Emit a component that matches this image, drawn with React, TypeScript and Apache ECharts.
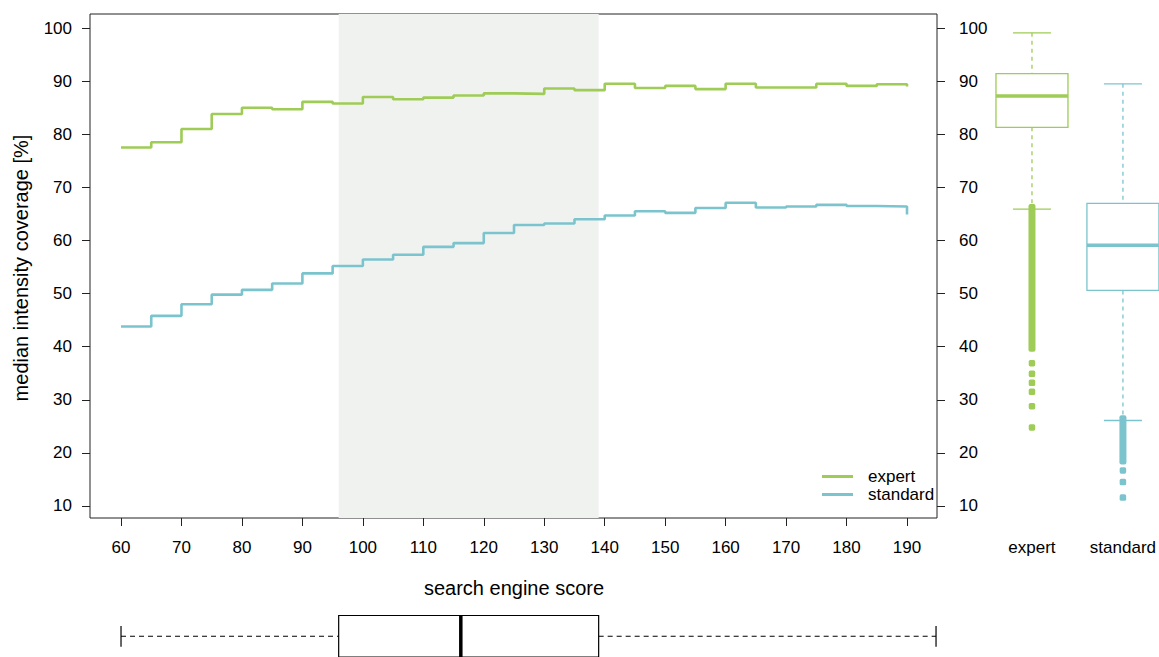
import React, { useEffect, useRef } from 'react';
import * as echarts from 'echarts';

// ---------- data ----------
const scoreSteps = [60, 65, 70, 75, 80, 85, 90, 95, 100, 105, 110, 115, 120, 125, 130, 135, 140, 145, 150, 155, 160, 165, 170, 175, 180, 185, 190];
const expertMedian = [77.5, 78.5, 81.0, 83.8, 85.0, 84.7, 86.1, 85.8, 87.0, 86.6, 86.9, 87.3, 87.7, 87.6, 88.6, 88.3, 89.5, 88.7, 89.1, 88.5, 89.5, 88.8, 88.8, 89.5, 89.1, 89.4, 89.0];
const standardMedian = [43.8, 45.8, 48.0, 49.8, 50.7, 51.9, 53.8, 55.2, 56.4, 57.3, 58.8, 59.5, 61.4, 62.9, 63.2, 64.0, 64.7, 65.5, 65.2, 66.1, 67.1, 66.2, 66.4, 66.7, 66.5, 66.4, 64.9];
const xTicks = [60, 70, 80, 90, 100, 110, 120, 130, 140, 150, 160, 170, 180, 190];
const yTicks = [10, 20, 30, 40, 50, 60, 70, 80, 90, 100];
const groupNames = ['expert', 'standard'];
const groupPositions = [0, 1];
// [group, lowerWhisker, q1, median, q3, upperWhisker]
const groupBoxStats = [
  [0, 65.9, 81.3, 87.2, 91.4, 99.1],
  [1, 26.1, 50.6, 59.1, 67.0, 89.5],
];
// dense outlier runs: [group, low, high]
const outlierRuns = [
  [0, 39.6, 66.3],
  [1, 18.4, 26.5],
];
// isolated outliers: [group, value]
const outlierPoints = [
  [0, 36.9], [0, 34.9], [0, 33.2], [0, 31.5], [0, 28.8], [0, 24.8],
  [1, 16.7], [1, 14.5], [1, 11.6],
];
// search engine score distribution: [min, q1, median, q3, max]
const scoreBoxStats = [60, 96, 116.2, 139, 194.8];

// ---------- styling ----------
const GREEN = '#9ECC56';
const BLUE = '#7CC4CD';
const groupColors = [GREEN, BLUE];
const FONT = 'Liberation Sans, Arial, Helvetica, sans-serif';
const X_MIN = 54.87;
const X_MAX = 194.96;
const Y_MIN = 7.74;
const Y_MAX = 102.64;

export default function App() {
  const ref = useRef<HTMLDivElement>(null);

  useEffect(() => {
    if (!ref.current) return;
    const chart = echarts.init(ref.current, undefined, { renderer: 'svg' });

    const txt = { fontFamily: FONT, fontSize: 17, color: '#000' };

    const option: any = {
      animation: false,
      backgroundColor: '#fff',
      textStyle: { fontFamily: FONT },
      grid: [
        { left: 90, top: 14, width: 847, height: 504, show: true, borderColor: '#222', borderWidth: 1, backgroundColor: 'transparent' },
        { left: 986.5, top: 14, width: 172.5, height: 504 },
        { left: 90, top: 615.5, width: 847, height: 44 },
      ],
      xAxis: [
        {
          type: 'value', gridIndex: 0, min: X_MIN, max: X_MAX,
          axisLine: { show: false },
          splitLine: { show: false },
          axisTick: { show: true, length: 8, inside: false, customValues: xTicks, lineStyle: { color: '#222', width: 1 } },
          axisLabel: { ...txt, margin: 21, customValues: xTicks },
        },
        {
          type: 'value', gridIndex: 1, min: -0.5, max: 1.355,
          axisLine: { show: false }, axisTick: { show: false }, splitLine: { show: false },
          axisLabel: { ...txt, margin: 21, customValues: groupPositions, formatter: (v: number) => groupNames[Math.round(v)] },
        },
        {
          type: 'value', gridIndex: 2, min: X_MIN, max: X_MAX, show: false,
        },
      ],
      yAxis: [
        {
          type: 'value', gridIndex: 0, min: Y_MIN, max: Y_MAX, position: 'left',
          axisLine: { show: false }, splitLine: { show: false },
          axisTick: { show: true, length: 8, customValues: yTicks, lineStyle: { color: '#222', width: 1 } },
          axisLabel: { ...txt, margin: 18, customValues: yTicks },
        },
        {
          type: 'value', gridIndex: 0, min: Y_MIN, max: Y_MAX, position: 'right',
          axisLine: { show: false }, splitLine: { show: false },
          axisTick: { show: true, length: 8, customValues: yTicks, lineStyle: { color: '#222', width: 1 } },
          axisLabel: { ...txt, margin: 22, customValues: yTicks, align: 'left' },
        },
        {
          type: 'value', gridIndex: 1, min: Y_MIN, max: Y_MAX, show: false,
        },
        {
          type: 'value', gridIndex: 2, min: 0, max: 1, show: false,
        },
      ],
      legend: {
        orient: 'vertical', left: 817, top: 463,
        icon: 'rect',
        itemWidth: 31, itemHeight: 3, itemGap: 1,
        textStyle: { ...txt, padding: [0, 0, 0, 10] },
        data: ['expert', 'standard'],
      },
      graphic: [
        {
          type: 'text', x: 514, y: 588,
          style: { text: 'search engine score', font: `20px ${FONT}`, fill: '#000', align: 'center', verticalAlign: 'middle', textAlign: 'center', textVerticalAlign: 'middle' },
        },
        {
          type: 'text', x: 21, y: 268, rotation: Math.PI / 2,
          style: { text: 'median intensity coverage [%]', font: `20px ${FONT}`, fill: '#000', align: 'center', verticalAlign: 'middle', textAlign: 'center', textVerticalAlign: 'middle' },
        },
      ],
      series: [
        {
          name: 'expert', type: 'line', xAxisIndex: 0, yAxisIndex: 0, step: 'end',
          symbol: 'none', showSymbol: false,
          data: scoreSteps.map((s, i) => [s, expertMedian[i]]),
          lineStyle: { color: GREEN, width: 2.6 }, itemStyle: { color: GREEN },
          z: 3,
          markArea: {
            silent: true,
            itemStyle: { color: '#F0F2F0' },
            data: [[{ xAxis: scoreBoxStats[1] }, { xAxis: scoreBoxStats[3] }]],
          },
        },
        {
          name: 'standard', type: 'line', xAxisIndex: 0, yAxisIndex: 0, step: 'end',
          symbol: 'none', showSymbol: false,
          data: scoreSteps.map((s, i) => [s, standardMedian[i]]),
          lineStyle: { color: BLUE, width: 2.6 }, itemStyle: { color: BLUE },
          z: 3,
        },
        {
          name: 'groupBoxes', type: 'custom', xAxisIndex: 1, yAxisIndex: 2,
          data: groupBoxStats,
          encode: { x: 0, y: [1, 2, 3, 4, 5] },
          renderItem: (params: any, api: any) => {
            const cat = api.value(0);
            const lo = api.value(1), q1 = api.value(2), med = api.value(3), q3 = api.value(4), hi = api.value(5);
            const cx = api.coord([cat, med])[0];
            const y = (v: number) => api.coord([cat, v])[1];
            const color = groupColors[params.dataIndex];
            const half = 36, cap = 19;
            const dash = { stroke: color, lineWidth: 1.3, lineDash: [4, 4] };
            return {
              type: 'group',
              children: [
                { type: 'line', shape: { x1: cx, y1: y(hi), x2: cx, y2: y(q3) }, style: dash },
                { type: 'line', shape: { x1: cx, y1: y(q1), x2: cx, y2: y(lo) }, style: dash },
                { type: 'line', shape: { x1: cx - cap, y1: y(hi), x2: cx + cap, y2: y(hi) }, style: { stroke: color, lineWidth: 1.3 } },
                { type: 'line', shape: { x1: cx - cap, y1: y(lo), x2: cx + cap, y2: y(lo) }, style: { stroke: color, lineWidth: 1.3 } },
                { type: 'rect', shape: { x: cx - half, y: y(q3), width: half * 2, height: y(q1) - y(q3) }, style: { fill: '#fff', stroke: color, lineWidth: 1.3 } },
                { type: 'line', shape: { x1: cx - half, y1: y(med), x2: cx + half, y2: y(med) }, style: { stroke: color, lineWidth: 3.5 } },
              ],
            };
          },
          z: 2,
        },
        {
          name: 'outlierRuns', type: 'custom', xAxisIndex: 1, yAxisIndex: 2,
          data: outlierRuns,
          encode: { x: 0, y: [1, 2] },
          renderItem: (params: any, api: any) => {
            const cat = api.value(0);
            const top = api.coord([cat, api.value(2)]);
            const bot = api.coord([cat, api.value(1)]);
            return {
              type: 'rect',
              shape: { x: top[0] - 3.5, y: top[1] - 3, width: 7, height: bot[1] - top[1] + 6, r: 2 },
              style: { fill: groupColors[params.dataIndex] },
            };
          },
          z: 4,
        },
        {
          name: 'outliers', type: 'scatter', xAxisIndex: 1, yAxisIndex: 2,
          data: outlierPoints,
          symbol: 'roundRect', symbolSize: 6.5,
          itemStyle: { color: (p: any) => groupColors[p.data[0]], opacity: 1 },
          z: 4,
        },
        {
          name: 'scoreBox', type: 'custom', xAxisIndex: 2, yAxisIndex: 3,
          data: [scoreBoxStats],
          encode: { x: [0, 1, 2, 3, 4] },
          renderItem: (params: any, api: any) => {
            const xs = [0, 1, 2, 3, 4].map((i) => api.coord([api.value(i), 0.5])[0]);
            const yTop = api.coord([0, 1])[1];
            const yBot = api.coord([0, 0])[1];
            const yMid = api.coord([0, 0.5])[1];
            const yCapT = api.coord([0, 0.75])[1];
            const yCapB = api.coord([0, 0.25])[1];
            const dash = { stroke: '#000', lineWidth: 1.2, lineDash: [5, 4] };
            return {
              type: 'group',
              children: [
                { type: 'line', shape: { x1: xs[0], y1: yMid, x2: xs[1], y2: yMid }, style: dash },
                { type: 'line', shape: { x1: xs[3], y1: yMid, x2: xs[4], y2: yMid }, style: dash },
                { type: 'line', shape: { x1: xs[0], y1: yCapT, x2: xs[0], y2: yCapB }, style: { stroke: '#000', lineWidth: 1.2 } },
                { type: 'line', shape: { x1: xs[4], y1: yCapT, x2: xs[4], y2: yCapB }, style: { stroke: '#000', lineWidth: 1.2 } },
                { type: 'rect', shape: { x: xs[1], y: yTop, width: xs[3] - xs[1], height: yBot - yTop }, style: { fill: '#fff', stroke: '#000', lineWidth: 1.2 } },
                { type: 'line', shape: { x1: xs[2], y1: yTop, x2: xs[2], y2: yBot }, style: { stroke: '#000', lineWidth: 3.5 } },
              ],
            };
          },
        },
      ],
    };

    chart.setOption(option);
    return () => chart.dispose();
  }, []);

  return (
    <div
      ref={ref}
      style={{ position: 'fixed', left: 0, top: 0, width: 1159, height: 657, background: '#fff' }}
    />
  );
}
